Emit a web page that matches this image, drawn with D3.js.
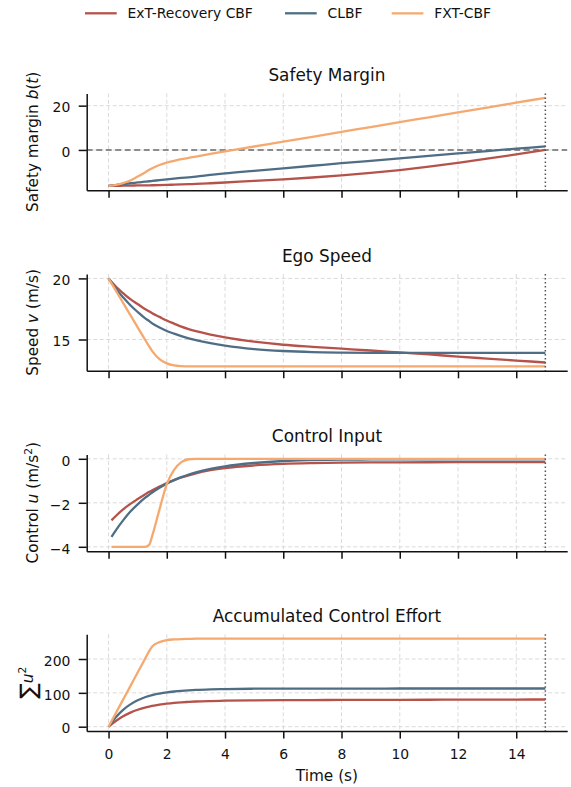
<!DOCTYPE html>
<html><head><meta charset="utf-8">
<script src="https://cdn.jsdelivr.net/npm/d3@7"></script>
<style>body{margin:0;background:#fff} text{font-family:"DejaVu Sans",sans-serif;fill:#111;white-space:pre}</style>
</head><body><svg id="c" width="571" height="787"></svg>
<script>
const time = [0, 0.1, 0.25, 0.5, 0.75, 1, 1.25, 1.4, 1.5, 1.75, 2, 2.25, 2.5, 2.75, 3, 3.5, 4, 5, 6, 7, 8, 9, 10, 11, 12, 13, 14, 15];
const seriesNames = ["ExT-Recovery CBF", "CLBF", "FXT-CBF"];
const seriesColors = ["#b5534a", "#4f6e85", "#f5a96f"];

const marginExt = [-16.2, -16.2, -16.2, -16.15, -16.1, -16.05, -16.0, -15.97, -15.95, -15.88, -15.8, -15.7, -15.6, -15.47, -15.35, -15.05, -14.7, -14.0, -13.3, -12.45, -11.5, -10.4, -9.1, -7.55, -5.8, -3.95, -2.0, 0.0];
const marginClbf = [-16.2, -16.05, -15.85, -15.45, -15.05, -14.7, -14.35, -14.15, -14.0, -13.65, -13.3, -12.95, -12.65, -12.35, -12.05, -11.3, -10.6, -9.45, -8.3, -7.15, -6.0, -4.9, -3.8, -2.7, -1.6, -0.5, 0.55, 1.6];
const marginFxt = [-16.2, -16.1, -15.8, -15.0, -13.8, -12.0, -10.2, -9.0, -8.3, -6.8, -5.7, -4.9, -4.2, -3.6, -3.0, -1.8, -0.65, 1.55, 3.75, 5.95, 8.15, 10.35, 12.55, 14.75, 16.95, 19.15, 21.35, 23.55];

const speedExt = [20, 19.72, 19.33, 18.8, 18.3, 17.9, 17.5, 17.3, 17.15, 16.85, 16.55, 16.3, 16.05, 15.85, 15.68, 15.4, 15.17, 14.82, 14.57, 14.4, 14.25, 14.1, 13.94, 13.78, 13.6, 13.44, 13.28, 13.12];
const speedClbf = [20, 19.65, 19.15, 18.45, 17.8, 17.25, 16.75, 16.5, 16.32, 15.98, 15.7, 15.48, 15.28, 15.1, 14.95, 14.7, 14.5, 14.22, 14.06, 13.97, 13.93, 13.91, 13.9, 13.9, 13.9, 13.9, 13.9, 13.9];
const speedFxt = [20, 19.6, 19.0, 18.0, 17.0, 16.0, 15.0, 14.42, 14.05, 13.4, 13.05, 12.88, 12.82, 12.8, 12.8, 12.8, 12.8, 12.8, 12.8, 12.8, 12.8, 12.8, 12.8, 12.8, 12.8, 12.8, 12.8, 12.8];

const controlExt = [null, -2.8, -2.6, -2.3, -2.05, -1.83, -1.62, -1.5, -1.43, -1.26, -1.1, -0.97, -0.85, -0.75, -0.66, -0.52, -0.42, -0.3, -0.23, -0.195, -0.175, -0.165, -0.16, -0.157, -0.155, -0.153, -0.15, -0.15];
const controlClbf = [null, -3.55, -3.25, -2.8, -2.4, -2.07, -1.78, -1.63, -1.53, -1.32, -1.13, -0.97, -0.83, -0.72, -0.62, -0.46, -0.34, -0.19, -0.1, -0.06, -0.04, -0.03, -0.02, -0.02, -0.02, -0.02, -0.02, -0.02];
const controlFxt = [null, -4, -4, -4, -4, -4, -4, -3.9, -3.5, -2.3, -1.15, -0.5, -0.15, -0.02, 0, 0, 0, 0, 0, 0, 0, 0, 0, 0, 0, 0, 0, 0];

const effortExt = [0, 7, 17, 31, 41.5, 50, 56.5, 59.5, 61.3, 65, 68, 70.3, 72, 73.3, 74.4, 75.8, 76.8, 77.9, 78.5, 78.8, 79.0, 79.2, 79.4, 79.6, 79.8, 80.0, 80.2, 80.4];
const effortClbf = [0, 12, 28, 50, 66, 78, 87, 91, 93.5, 98, 101.5, 104, 106, 107.5, 108.7, 110.3, 111.3, 112.2, 112.5, 112.6, 112.7, 112.7, 112.8, 112.8, 112.8, 112.8, 112.8, 112.8];
const effortFxt = [0, 16, 40, 80, 120, 160, 200, 224, 237, 250, 256, 258, 259, 259.5, 260, 260, 260, 260, 260, 260, 260, 260, 260, 260, 260, 260, 260, 260];

const panelTitles = ["Safety Margin", "Ego Speed", "Control Input", "Accumulated Control Effort"];
const yTicks = [[0, 20], [15, 20], [-4, -2, 0], [0, 100, 200]];
const xTicks = [0, 2, 4, 6, 8, 10, 12, 14];
const xLabel = "Time (s)";
const tEnd = 15;

const panelData = [
  [marginExt, marginClbf, marginFxt],
  [speedExt, speedClbf, speedFxt],
  [controlExt, controlClbf, controlFxt],
  [effortExt, effortClbf, effortFxt]
];

const svg = d3.select("#c");
const L = 86.7, R = 567.2, H = 96.8;
const tops = [93.4, 274.0, 454.4, 634.3];
const FS = 13.9;
const fmt = d3.format("d");

const tMin = d3.min(time), tMax = d3.max(time), tPad = (tMax - tMin) * 0.05;
const x = d3.scaleLinear().domain([tMin - tPad, tMax + tPad]).range([L, R]);

// legend
const legX = [85, 285, 391.7];
seriesNames.forEach((n, i) => {
  svg.append("line").attr("x1", legX[i]).attr("x2", legX[i] + 31.7).attr("y1", 13.3).attr("y2", 13.3)
    .attr("stroke", seriesColors[i]).attr("stroke-width", 2.3);
  svg.append("text").attr("x", legX[i] + 42.6).attr("y", 18.4).attr("font-size", FS).text(n);
});

panelData.forEach((series, p) => {
  const top = tops[p], bot = top + H;
  const all = series.flat().filter(v => v != null);
  const lo = d3.min(all), hi = d3.max(all), pad = (hi - lo) * 0.05;
  const y = d3.scaleLinear().domain([lo - pad, hi + pad]).range([bot, top]);
  const g = svg.append("g");

  // grid
  g.selectAll(null).data(xTicks).enter().append("line")
    .attr("x1", d => x(d)).attr("x2", d => x(d)).attr("y1", top).attr("y2", bot)
    .attr("stroke", "#d6d6d6").attr("stroke-width", 0.9).attr("stroke-dasharray", "4,2.5");
  g.selectAll(null).data(yTicks[p]).enter().append("line")
    .attr("x1", L).attr("x2", R).attr("y1", d => y(d)).attr("y2", d => y(d))
    .attr("stroke", "#d6d6d6").attr("stroke-width", 0.9).attr("stroke-dasharray", "4,2.5");

  if (p === 0) {
    g.append("line").attr("x1", L).attr("x2", R).attr("y1", y(0)).attr("y2", y(0))
      .attr("stroke", "#6a6a6a").attr("stroke-width", 1.6).attr("stroke-dasharray", "6,3.5");
  }

  const line = d3.line().defined(d => d[1] != null).x(d => x(d[0])).y(d => y(d[1])).curve(d3.curveMonotoneX);
  series.forEach((vals, i) => {
    g.append("path").attr("d", line(time.map((t, k) => [t, vals[k]])))
      .attr("fill", "none").attr("stroke", seriesColors[i]).attr("stroke-width", 2.3)
      .attr("stroke-linejoin", "round").attr("stroke-linecap", "butt");
  });

  g.append("line").attr("x1", x(tEnd)).attr("x2", x(tEnd)).attr("y1", top).attr("y2", bot)
    .attr("stroke", "#555").attr("stroke-width", 1.5).attr("stroke-dasharray", "1.5,2.5");

  // axes
  const ya = g.append("g").attr("transform", `translate(${L},0)`)
    .call(d3.axisLeft(y).tickValues(yTicks[p]).tickFormat(fmt).tickSize(8).tickSizeOuter(0).tickPadding(8.4));
  const xa = g.append("g").attr("transform", `translate(0,${bot})`)
    .call(d3.axisBottom(x).tickValues(xTicks).tickSize(7.5).tickSizeOuter(0).tickPadding(11).tickFormat(p === 3 ? fmt : () => ""));
  [ya, xa].forEach(a => {
    a.select(".domain").attr("stroke", "#111").attr("stroke-width", 1.5);
    a.selectAll(".tick line").attr("stroke", "#111").attr("stroke-width", 1.5);
    a.selectAll(".tick text").attr("font-size", FS).attr("font-family", "DejaVu Sans").attr("fill", "#111");
  });
  ya.selectAll(".tick text").attr("dy", "0.45em");

  // title
  svg.append("text").attr("x", (L + R) / 2).attr("y", top - 12).attr("text-anchor", "middle")
    .attr("font-size", 16.9).text(panelTitles[p]);

  // y label
  const cy = (top + bot) / 2;
  const yl = svg.append("text").attr("text-anchor", "middle").attr("font-size", 15.3)
    .attr("transform", `translate(${p === 3 ? 33 : 38},${cy}) rotate(-90)`);
  if (p === 0) {
    yl.append("tspan").text("Safety margin ");
    yl.append("tspan").attr("font-style", "italic").text("b");
    yl.append("tspan").text("(");
    yl.append("tspan").attr("font-style", "italic").text("t");
    yl.append("tspan").text(")");
  } else if (p === 1) {
    yl.append("tspan").text("Speed ");
    yl.append("tspan").attr("font-style", "italic").text("v");
    yl.append("tspan").text(" (m/s)");
  } else if (p === 2) {
    yl.append("tspan").text("Control ");
    yl.append("tspan").attr("font-style", "italic").text("u");
    yl.append("tspan").text(" (m/s");
    yl.append("tspan").attr("font-size", 10.7).attr("dy", -6).text("2");
    yl.append("tspan").attr("dy", 6).text(")");
  } else {
    yl.append("tspan").attr("font-size", 23).attr("dy", 3).text("∑");
    yl.append("tspan").attr("font-style", "italic").attr("dy", -3).text("u");
    yl.append("tspan").attr("font-size", 10.7).attr("dy", -7).text("2");
  }
});

svg.append("text").attr("x", (L + R) / 2).attr("y", 781).attr("text-anchor", "middle")
  .attr("font-size", 15.3).text(xLabel);
</script>
</body></html>
